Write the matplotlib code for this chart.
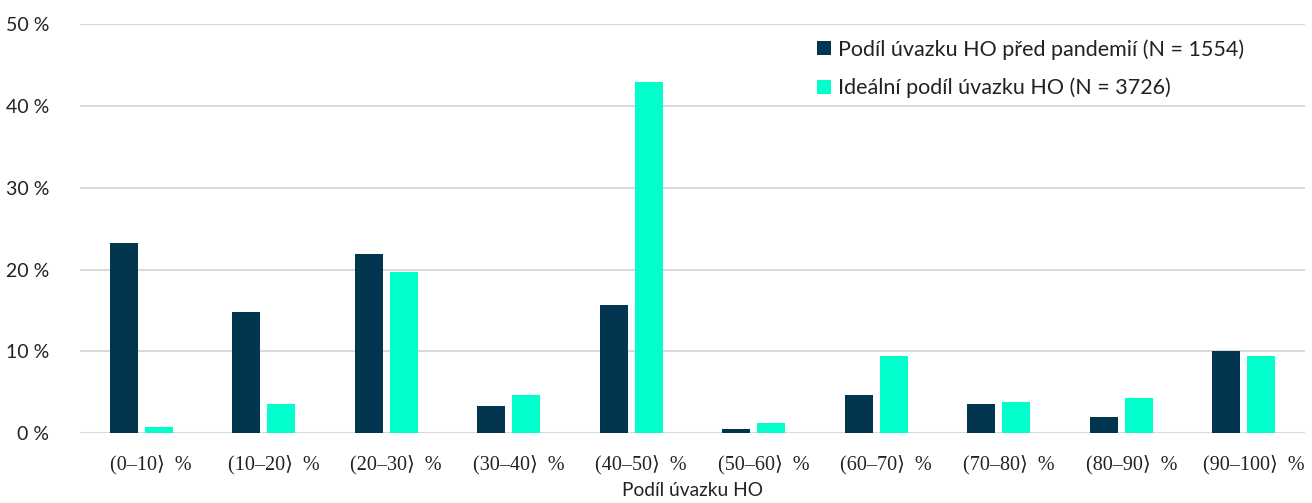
import numpy as np
import matplotlib
matplotlib.use('Agg')
import matplotlib.pyplot as plt
from matplotlib.transforms import ScaledTranslation

# Data
categories = ['(0–10⟩  %', '(10–20⟩  %', '(20–30⟩  %', '(30–40⟩  %', '(40–50⟩  %',
              '(50–60⟩  %', '(60–70⟩  %', '(70–80⟩  %', '(80–90⟩  %', '(90–100⟩  %']
pred_pandemii = [23.2, 14.8, 21.9, 3.35, 15.6, 0.55, 4.65, 3.5, 1.95, 10.0]
idealni = [0.7, 3.5, 19.75, 4.6, 42.9, 1.2, 9.4, 3.8, 4.3, 9.4]
labels = ['Podíl úvazku HO před pandemií (N = 1554)', 'Ideální podíl úvazku HO (N = 3726)']
yticks = [0, 10, 20, 30, 40, 50]

DARK = '#02354F'
AQUA = '#00FFCC'
GRID = '#D9D9D9'

fig = plt.figure(figsize=(13.12, 5.03), dpi=100)
ax = fig.add_axes([0.061, 0.139, 0.9337, 0.813])

x = np.arange(len(categories))
w = 0.226
off = 0.143
ax.bar(x - off, pred_pandemii, w, color=DARK, label=labels[0], zorder=3)
ax.bar(x + off, idealni, w, color=AQUA, label=labels[1], zorder=3)

ax.set_xlim(-0.5, len(categories) - 0.5)
ax.set_ylim(0, 50)
ax.set_yticks(yticks)
ax.set_yticklabels([f'{v} %' for v in yticks], fontfamily='Lato', fontsize=14)
ax.set_xticks(x)
ax.set_xticklabels(categories, fontfamily=['Liberation Serif', 'DejaVu Serif'], fontsize=14.5)
ax.tick_params(axis='both', length=0, colors='#222222')
ax.tick_params(axis='y', pad=22)
ax.tick_params(axis='x', pad=16)
ax.grid(axis='y', color=GRID, linewidth=1.5, zorder=0)
for s in ax.spines.values():
    s.set_visible(False)

# category labels sit a little right of the bar pair in the original
shift = ScaledTranslation(10 / 100, 0, fig.dpi_scale_trans)
for lbl in ax.get_xticklabels():
    lbl.set_transform(lbl.get_transform() + shift)

ax.set_xlabel('Podíl úvazku HO', fontfamily='Lato', fontsize=13.8, color='#222222', labelpad=5)

leg = ax.legend(loc='upper left', bbox_to_anchor=(0.608, 0.961), bbox_transform=fig.transFigure,
                frameon=False, prop={'family': 'Lato', 'size': 15.5},
                handlelength=0.65, handleheight=0.65, handletextpad=0.3, labelspacing=0.85)
for t in leg.get_texts():
    t.set_color('#222222')

fig.savefig('out.png', dpi=100)
